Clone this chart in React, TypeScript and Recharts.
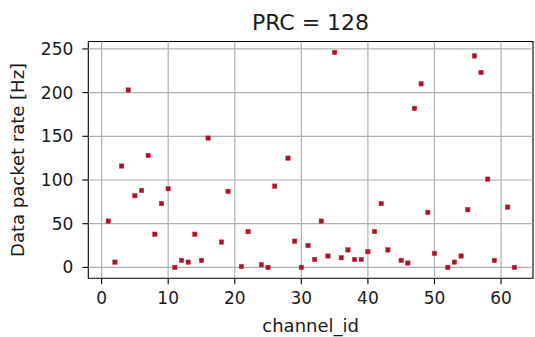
import { ScatterChart, Scatter, XAxis, YAxis, ReferenceLine, ReferenceArea } from 'recharts'

// channels that reported packets (17, 20, 23, 27, 44, 51, 60 are absent)
const channelIds = [
  1, 2, 3, 4, 5, 6, 7, 8, 9, 10, 11, 12, 13, 14, 15, 16, 18, 19, 21, 22, 24, 25, 26, 28, 29, 30,
  31, 32, 33, 34, 35, 36, 37, 38, 39, 40, 41, 42, 43, 45, 46, 47, 48, 49, 50, 52, 53, 54, 55, 56,
  57, 58, 59, 61, 62,
]
const packetRates = [
  53, 6, 116, 203, 82, 88, 128, 38, 73, 90, 0, 8, 6, 38, 8, 148, 29, 87, 1, 41, 3, 0, 93, 125, 30, 0,
  25, 9, 53, 13, 246, 11, 20, 9, 9, 18, 41, 73, 20, 8, 5, 182, 210, 63, 16, 0, 6, 13, 66, 242,
  223, 101, 8, 69, 0,
]
const xTicks = [0, 10, 20, 30, 40, 50, 60]
const yTicks = [0, 50, 100, 150, 200, 250]

const X_DOMAIN: [number, number] = [-2.0, 64.8]
const Y_DOMAIN: [number, number] = [-12.5, 258.5]

const FONT = '"DejaVu Sans", sans-serif'
const GRID = '#b0b0b0'

const points = channelIds.map((id, i) => ({ channel_id: id, rate: packetRates[i] }))

// small square marker, like matplotlib's 's' with a tiny size
const SquareMarker = ({ cx, cy }: any) => {
  const s = 4.4
  return <rect x={cx - s / 2} y={cy - s / 2} width={s} height={s} fill="#a3152e" stroke="#d42a3a" strokeWidth={0.5} />
}

const YLabel = ({ viewBox }: any) => {
  const x = 24
  const y = viewBox.y + viewBox.height / 2
  return (
    <text x={x} y={y} transform={`rotate(-90, ${x}, ${y})`} textAnchor="middle" fontSize={18} fontFamily={FONT} fill="#1a1a1a">
      Data packet rate [Hz]
    </text>
  )
}

const XLabel = ({ viewBox }: any) => (
  <text x={viewBox.x + viewBox.width / 2} y={331.5} textAnchor="middle" fontSize={18} fontFamily={FONT} fill="#1a1a1a">
    channel_id
  </text>
)

export default function App() {
  return (
    <div style={{ position: 'fixed', left: 0, top: 0, width: 535, height: 337, background: '#fff' }}>
      <svg width={535} height={40} style={{ position: 'absolute', left: 0, top: 0 }}>
        <text x={310.5} y={29.5} textAnchor="middle" fontSize={22} fontFamily={FONT} fill="#1a1a1a">
          PRC = 128
        </text>
      </svg>
      <ScatterChart width={535} height={337} margin={{ top: 41.5, right: 2, bottom: 0, left: 0 }}>
        <XAxis
          type="number"
          dataKey="channel_id"
          domain={X_DOMAIN}
          ticks={xTicks}
          allowDataOverflow
          height={58.7}
          tickSize={6}
          tickMargin={8}
          axisLine={false}
          tickLine={{ stroke: '#000', strokeWidth: 1.1 }}
          tick={{ fill: '#1a1a1a', fontSize: 17, fontFamily: FONT }}
          label={<XLabel />}
        />
        <YAxis
          type="number"
          dataKey="rate"
          domain={Y_DOMAIN}
          ticks={yTicks}
          allowDataOverflow
          width={88.3}
          tickSize={6}
          tickMargin={9}
          axisLine={false}
          tickLine={{ stroke: '#000', strokeWidth: 1.1 }}
          tick={{ fill: '#1a1a1a', fontSize: 17, fontFamily: FONT }}
          label={<YLabel />}
        />
        <Scatter data={points} shape={<SquareMarker />} isAnimationActive={false} />
        {/* grid sits above the markers */}
        {xTicks.map((t) => (
          <ReferenceLine key={`gx${t}`} x={t} stroke={GRID} strokeWidth={1.2} />
        ))}
        {yTicks.map((t) => (
          <ReferenceLine key={`gy${t}`} y={t} stroke={GRID} strokeWidth={1.2} />
        ))}
        <ReferenceArea
          x1={X_DOMAIN[0]}
          x2={X_DOMAIN[1]}
          y1={Y_DOMAIN[0]}
          y2={Y_DOMAIN[1]}
          fill="none"
          fillOpacity={0}
          stroke="#000"
          strokeWidth={1.1}
        />
      </ScatterChart>
    </div>
  )
}
